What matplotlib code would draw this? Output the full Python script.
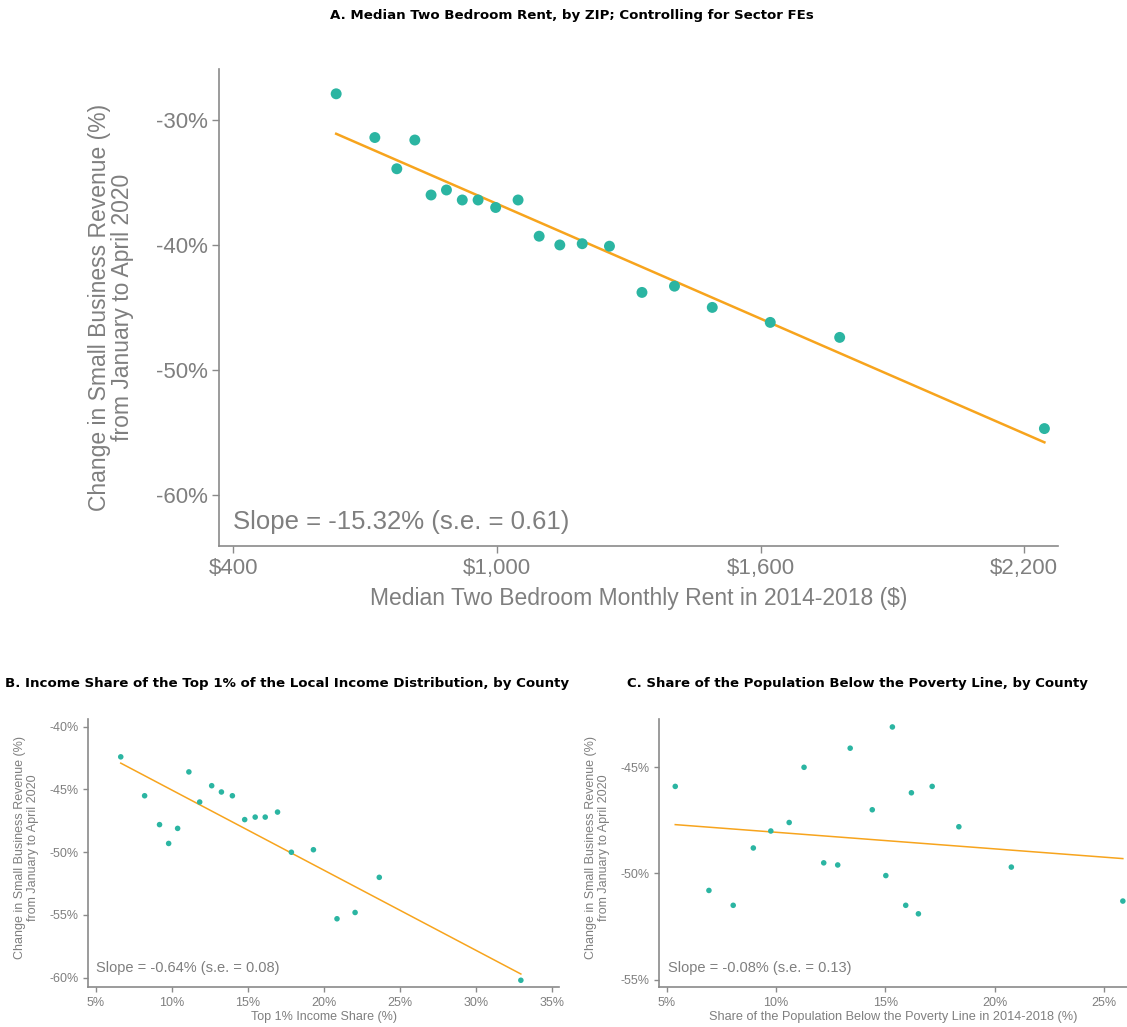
import numpy as np
import matplotlib
matplotlib.use("Agg")
import matplotlib.pyplot as plt
from matplotlib.ticker import FuncFormatter

# panel A: median two bedroom rent by ZIP
rent = [634, 722, 772, 813, 850, 885, 921, 957, 997, 1048,
        1096, 1143, 1194, 1256, 1330, 1404, 1490, 1622, 1780, 2246]
rev_a = [-27.9, -31.4, -33.9, -31.6, -36.0, -35.6, -36.4, -36.4, -37.0, -36.4,
         -39.3, -40.0, -39.9, -40.1, -43.8, -43.3, -45.0, -46.2, -47.4, -54.7]
fit_a = [-31.1, -55.8]

# panel B: top 1% income share by county
top1 = [6.64, 8.21, 9.19, 9.79, 10.38, 11.12, 11.83, 12.62, 13.26, 13.98,
        14.79, 15.48, 16.14, 16.95, 17.86, 19.31, 20.86, 22.05, 23.64, 32.95]
rev_b = [-42.4, -45.5, -47.8, -49.3, -48.1, -43.6, -46.0, -44.7, -45.2, -45.5,
         -47.4, -47.2, -47.2, -46.8, -50.0, -49.8, -55.3, -54.8, -52.0, -60.2]
fit_b = [-42.9, -59.7]

# panel C: poverty share by county
poverty = [5.39, 6.93, 8.04, 8.96, 9.76, 10.60, 11.28, 12.18, 12.82, 13.39,
           14.40, 15.02, 15.32, 15.93, 16.19, 16.51, 17.14, 18.36, 20.76, 25.86]
rev_c = [-45.9, -50.8, -51.5, -48.8, -48.0, -47.6, -45.0, -49.5, -49.6, -44.1,
         -47.0, -50.1, -43.1, -51.5, -46.2, -51.9, -45.9, -47.8, -49.7, -51.3]
fit_c = [-47.7, -49.3]

ylab = "Change in Small Business Revenue (%)\nfrom January to April 2020"
dot = "#2bb5a2"
orange = "#f7a41d"
grey = "#7f7f7f"
axgrey = "#8a8a8a"
sans = ["Liberation Sans", "DejaVu Sans"]
title_font = ["DejaVu Sans"]

plt.rcParams["font.family"] = sans

fig = plt.figure(figsize=(11.27, 10.27), dpi=100)


def style(ax, fs, ticklen):
    for s in ["top", "right"]:
        ax.spines[s].set_visible(False)
    for s in ["left", "bottom"]:
        ax.spines[s].set_color(axgrey)
        ax.spines[s].set_linewidth(1.2)
    ax.tick_params(colors=axgrey, labelcolor=grey, labelsize=fs,
                   length=ticklen, width=1.0, direction="out")


pct = FuncFormatter(lambda v, p: "{:.0f}%".format(v))

# ---- panel A
ax = fig.add_axes([0.1946, 0.4686, 0.7442, 0.4639])
ax.scatter(rent, rev_a, s=62, color=dot, edgecolors="none", zorder=3)
ax.plot([min(rent), max(rent)], fit_a, color=orange, lw=1.8, zorder=2)
ax.set_xlim(368, 2277)
ax.set_ylim(-64.08, -25.94)
ax.set_xticks([400, 1000, 1600, 2200])
ax.set_yticks([-30, -40, -50, -60])
ax.xaxis.set_major_formatter(FuncFormatter(lambda v, p: "${:,.0f}".format(v)))
ax.yaxis.set_major_formatter(pct)
style(ax, 16, 5)
ax.text(-0.129, 0.5, ylab, transform=ax.transAxes, rotation=90, ha="center",
        va="center", fontsize=16.5, color=grey, linespacing=1.0)
ax.text(0.5, -0.11, "Median Two Bedroom Monthly Rent in 2014-2018 ($)",
        transform=ax.transAxes, ha="center", va="center", fontsize=16.5, color=grey)
ax.text(0.0167, 0.05, "Slope = -15.32% (s.e. = 0.61)", transform=ax.transAxes,
        ha="left", va="center", fontsize=18.5, color=grey)
fig.text(572 / 1127, 1 - 15 / 1027, "A. Median Two Bedroom Rent, by ZIP; Controlling for Sector FEs",
         ha="center", va="center", fontsize=9.6, fontweight="bold", family=title_font)

# ---- panel B
ax = fig.add_axes([0.0784, 0.0389, 0.4179, 0.2607])
ax.scatter(top1, rev_b, s=16, color=dot, edgecolors="none", zorder=3)
ax.plot([min(top1), max(top1)], fit_b, color=orange, lw=1.1, zorder=2)
ax.set_xlim(4.51, 35.48)
ax.set_ylim(-60.74, -39.41)
ax.set_xticks([5, 10, 15, 20, 25, 30, 35])
ax.set_yticks([-40, -45, -50, -55, -60])
ax.xaxis.set_major_formatter(pct)
ax.yaxis.set_major_formatter(pct)
style(ax, 9, 3.5)
ax.text(-61.8 / 471, 0.52, ylab, transform=ax.transAxes, rotation=90, ha="center",
        va="center", fontsize=9, color=grey, linespacing=1.05)
ax.text(0.5, -0.112, "Top 1% Income Share (%)", transform=ax.transAxes,
        ha="center", va="center", fontsize=9, color=grey)
ax.text(0.016, 0.07, "Slope = -0.64% (s.e. = 0.08)", transform=ax.transAxes,
        ha="left", va="center", fontsize=10.5, color=grey)
fig.text(287 / 1127, 1 - 683 / 1027,
         "B. Income Share of the Top 1% of the Local Income Distribution, by County",
         ha="center", va="center", fontsize=9.65, fontweight="bold", family=title_font)

# ---- panel C
ax = fig.add_axes([0.5850, 0.0389, 0.4150, 0.2607])
ax.scatter(poverty, rev_c, s=16, color=dot, edgecolors="none", zorder=3, clip_on=False)
ax.plot([min(poverty), max(poverty)], fit_c, color=orange, lw=1.1, zorder=2)
ax.set_xlim(4.66, 26.05)
ax.set_ylim(-55.35, -42.74)
ax.set_xticks([5, 10, 15, 20, 25])
ax.set_yticks([-45, -50, -55])
ax.xaxis.set_major_formatter(pct)
ax.yaxis.set_major_formatter(pct)
style(ax, 9, 3.5)
ax.text(-61.8 / 467.7, 0.52, ylab, transform=ax.transAxes, rotation=90, ha="center",
        va="center", fontsize=9, color=grey, linespacing=1.05)
ax.text(0.5, -0.112, "Share of the Population Below the Poverty Line in 2014-2018 (%)",
        transform=ax.transAxes, ha="center", va="center", fontsize=9.2, color=grey)
ax.text(0.018, 0.07, "Slope = -0.08% (s.e. = 0.13)", transform=ax.transAxes,
        ha="left", va="center", fontsize=10.5, color=grey)
fig.text(857 / 1127, 1 - 683 / 1027,
         "C. Share of the Population Below the Poverty Line, by County",
         ha="center", va="center", fontsize=9.5, fontweight="bold", family=title_font)

fig.savefig("out.png", dpi=100)
